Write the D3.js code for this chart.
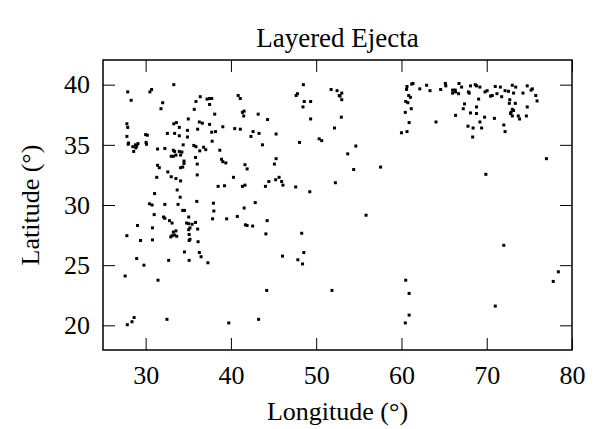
<!DOCTYPE html>
<html>
<head>
<meta charset="utf-8">
<script src="https://cdn.jsdelivr.net/npm/d3@7"></script>
<style>
  body { margin: 0; background: white; }
  svg text { font-family: "Liberation Serif", "Times New Roman", serif; fill: black; }
</style>
</head>
<body>
<div id="chart"></div>
<script>
// Crater positions (longitude / latitude in degrees)
// Both arrays are kept in the same order, one line per group of ten
const longitude = [
    33.3, 27.9, 30.7, 30.5, 28.3, 32.0, 31.8, 35.9, 36.4, 35.7,
    35.0, 27.8, 27.9, 33.3, 33.6, 33.95, 33.4, 32.55, 33.95, 34.9,
    36.3, 27.8, 30.0, 30.2, 30.05, 30.1, 28.0, 27.95, 28.5, 28.8,
    28.95, 29.1, 28.85, 28.6, 34.9, 34.4, 35.65, 35.9, 36.35, 31.4,
    32.25, 33.25, 33.4, 33.95, 34.25, 33.0, 33.25, 33.55, 34.1, 34.5,
    34.5, 34.1, 34.35, 35.85, 36.05, 31.4, 31.6,
    32.6, 36.05, 31.3, 33.0, 33.55, 34.1, 33.7, 31.05, 34.05, 30.45,
    30.75, 32.25, 33.8, 36.0, 34.35, 34.55, 31.0, 32.1, 32.25, 35.05,
    32.8, 33.1, 34.8, 35.05, 35.45, 35.85, 29.05, 30.8, 35.2, 35.05,
    36.1, 33.25, 33.55, 33.1, 33.4, 33.65, 32.95, 27.8, 29.4, 30.8,
    35.1, 35.2, 35.1, 36.15, 34.55, 36.3, 36.5, 28.95, 32.7, 35.1,
    29.8, 27.6, 31.45, 27.85, 28.4, 28.65, 32.5, 39.75, 43.25, 44.2,
    51.85, 46.05, 48.55, 47.85, 48.4, 48.3, 44.1, 44.25, 42.85, 41.55,
    40.75, 39.5, 37.85, 41.7, 41.9, 42.55, 37.3, 37.95, 38.0,
    40.3, 38.5, 39.25, 41.35, 41.65, 44.45, 45.25, 45.65, 45.95, 46.1,
    44.05, 47.6, 48.5, 47.65, 47.8, 48.6, 48.45, 37.2, 37.5, 37.75,
    37.5, 40.85, 41.1, 38.1, 41.35, 41.55, 41.5, 43.2, 44.3, 36.65,
    37.5, 36.1, 37.75, 38.2, 39.05, 40.45, 41.1, 42.6, 43.3, 42.35,
    45.3, 48.05, 43.7, 37.8, 36.8, 37.05, 38.7, 38.9, 39.05, 39.4,
    41.65, 41.9, 45.3, 45.1,
    49.35, 51.75, 52.45, 52.7, 49.35, 50.35, 50.65, 52.15, 52.25, 49.25,
    53.0, 52.8, 53.0, 52.95, 54.65, 53.7, 54.4, 57.55, 69.9, 77.0,
    55.85, 72.0, 60.5, 60.9, 60.9, 60.45, 71.0, 78.4, 77.8,
    60.65, 60.6, 61.2, 61.35, 62.15, 62.95, 63.35, 64.6, 65.15, 65.2,
    66.0, 66.3, 66.0, 66.35, 66.7, 66.75, 67.05, 67.85, 67.95, 68.1,
    68.65, 68.8, 69.2, 60.85, 61.05, 60.5, 60.75, 61.15, 60.45, 69.05,
    67.4, 67.25, 68.8, 68.1, 68.8, 66.35, 64.05, 60.9, 69.2, 67.8,
    68.4, 60.0, 60.65, 68.35,
    69.8, 70.05, 70.45, 70.65, 71.0, 71.6, 71.2, 71.75, 72.15, 72.55,
    73.0, 73.4, 73.15, 72.7, 72.65, 73.35, 74.25, 74.75, 75.2, 75.35,
    75.75, 75.9, 74.75, 73.0, 73.15, 72.85, 72.8, 73.0, 73.7, 73.85,
    74.65, 70.9, 69.75, 69.4, 72.0, 72.15
];

const latitude = [
    40.0, 39.4, 39.6, 39.4, 38.7, 38.5, 38.0, 38.6, 39.0, 37.95,
    37.15, 36.75, 36.45, 36.75, 36.85, 36.45, 35.95, 35.95, 35.75, 36.2,
    36.9, 35.7, 35.85, 35.8, 35.2, 35.05, 35.15, 35.05, 34.85, 35.0,
    34.9, 35.1, 34.75, 34.45, 35.65, 35.0, 34.95, 34.85, 34.5, 34.65,
    34.7, 34.55, 34.45, 34.45, 34.4, 34.05, 34.05, 34.15, 34.15, 33.65,
    33.45, 33.1, 33.15, 33.95, 33.4, 33.3, 33.1,
    32.75, 32.5, 32.3, 32.35, 32.2, 32.0, 31.25, 30.95, 30.65, 30.1,
    30.0, 30.05, 30.05, 30.3, 29.55, 29.55, 29.2, 29.0, 28.9, 29.0,
    28.7, 28.5, 28.5, 28.45, 28.4, 28.55, 28.3, 28.1, 28.1, 27.95,
    28.0, 27.75, 27.85, 27.45, 27.5, 27.4, 27.35, 27.45, 27.05, 27.1,
    27.55, 27.15, 27.05, 26.95, 26.1, 26.05, 25.7, 25.55, 25.4, 25.4,
    25.0, 24.1, 23.75, 20.05, 20.3, 20.65, 20.5, 20.2, 20.5, 22.9,
    22.9, 25.75, 26.05, 25.45, 25.1, 27.65, 27.6, 28.7, 30.2, 29.75,
    29.05, 28.85, 28.85, 28.35, 28.3, 28.25, 25.2, 30.15, 29.5,
    32.3, 31.55, 31.6, 31.55, 31.65, 31.95, 32.1, 32.3, 31.95, 31.65,
    31.55, 31.5, 40.0, 39.1, 39.25, 38.6, 38.15, 38.8, 38.85, 38.85,
    38.35, 39.1, 38.85, 37.55, 37.7, 37.8, 37.4, 37.55, 37.1, 36.8,
    36.7, 36.3, 36.05, 36.1, 36.5, 36.35, 36.3, 36.1, 35.95, 35.7,
    35.9, 35.2, 35.0, 35.3, 34.8, 34.6, 34.55, 33.8, 33.6, 33.5,
    33.35, 33.0, 33.85, 33.4,
    38.6, 39.6, 39.5, 39.1, 37.15, 35.5, 35.35, 36.4, 31.85, 31.1,
    39.3, 39.05, 38.75, 37.3, 34.9, 34.25, 32.95, 33.15, 32.55, 33.85,
    29.15, 26.65, 23.75, 22.65, 20.85, 20.2, 21.6, 24.45, 23.65,
    39.85, 39.6, 40.05, 40.1, 39.65, 39.95, 39.5, 39.6, 40.1, 39.9,
    39.55, 39.55, 39.3, 39.4, 39.25, 40.1, 39.8, 39.4, 39.3, 39.9,
    40.0, 39.9, 39.8, 39.1, 38.95, 38.6, 38.5, 38.0, 37.7, 38.8,
    38.4, 38.0, 38.15, 37.65, 37.6, 37.45, 36.9, 36.85, 36.9, 36.55,
    36.4, 36.0, 36.1, 35.65,
    39.4, 39.5, 39.05, 39.1, 39.85, 39.8, 39.25, 39.0, 39.5, 39.45,
    39.95, 39.8, 39.3, 38.75, 38.45, 38.45, 39.3, 39.9, 39.55, 39.65,
    39.1, 38.65, 38.15, 37.95, 37.85, 37.7, 37.6, 37.4, 37.4, 37.15,
    37.4, 37.2, 37.3, 36.4, 36.65, 36.1
];

// Tick values and axis range
const xTicks = [30, 40, 50, 60, 70, 80];
const yTicks = [20, 25, 30, 35, 40];
const xDomain = [25, 80];
const yDomain = [17.95, 42.05];

const titleText = "Layered Ejecta";
const xLabel = "Longitude (°)";
const yLabel = "Latitude (°)";

if (longitude.length != latitude.length) {
    console.error("longitude / latitude length mismatch", longitude.length, latitude.length);
}

// Pair the two arrays up for d3
let points = longitude.map(function(lon, i) {
    return {lon: lon, lat: latitude[i]};
});

let margin = {top: 60, right: 22, bottom: 79, left: 103},
    width = 594 - margin.left - margin.right,
    height = 429 - margin.top - margin.bottom;

let x = d3.scaleLinear().domain(xDomain).range([0, width]);
let y = d3.scaleLinear().domain(yDomain).range([height, 0]);

let svg = d3.select("#chart").append("svg")
    .attr("width", 594)
    .attr("height", 429);

let g = svg.append("g")
    .attr("transform", "translate(" + margin.left + "," + margin.top + ")");

// Axes: ticks point inward, mirrored on top and right
let fontSize = 26;

let xAxis = g.append("g")
    .attr("transform", "translate(0," + height + ")")
    .call(d3.axisBottom(x).tickValues(xTicks).tickSize(-12).tickPadding(16));
let xTop = g.append("g")
    .call(d3.axisTop(x).tickValues(xTicks).tickSize(-12).tickFormat(""));
let yAxis = g.append("g")
    .call(d3.axisLeft(y).tickValues(yTicks).tickSize(-12).tickPadding(13));
let yRight = g.append("g")
    .attr("transform", "translate(" + width + ",0)")
    .call(d3.axisRight(y).tickValues(yTicks).tickSize(-12).tickFormat(""));

for (let ax of [xAxis, xTop, yAxis, yRight]) {
    ax.select(".domain").remove();
    ax.selectAll(".tick line").attr("stroke", "#000").attr("stroke-width", 1);
    ax.selectAll(".tick text")
        .style("font-family", "'Liberation Serif', 'Times New Roman', serif")
        .style("font-size", fontSize + "px")
        .attr("fill", "#000");
}

// Frame around the plot
g.append("rect")
    .attr("x", 0)
    .attr("y", 0)
    .attr("width", width)
    .attr("height", height)
    .attr("fill", "none")
    .attr("stroke", "#000")
    .attr("stroke-width", 1.5);

// The points (small black squares)
let size = 3;
g.append("g")
    .selectAll("rect")
    .data(points)
    .enter()
    .append("rect")
    .attr("x", function(d) { return x(d.lon) - size / 2; })
    .attr("y", function(d) { return y(d.lat) - size / 2; })
    .attr("width", size)
    .attr("height", size)
    .attr("fill", "#000");

// Title and axis labels
svg.append("text")
    .attr("x", margin.left + width / 2)
    .attr("y", 47)
    .attr("text-anchor", "middle")
    .style("font-size", "27px")
    .text(titleText);

svg.append("text")
    .attr("x", margin.left + width / 2)
    .attr("y", 420)
    .attr("text-anchor", "middle")
    .style("font-size", fontSize + "px")
    .text(xLabel);

svg.append("text")
    .attr("transform", "translate(39," + (margin.top + height / 2) + ") rotate(-90)")
    .attr("text-anchor", "middle")
    .style("font-size", fontSize + "px")
    .text(yLabel);
</script>
</body>
</html>
